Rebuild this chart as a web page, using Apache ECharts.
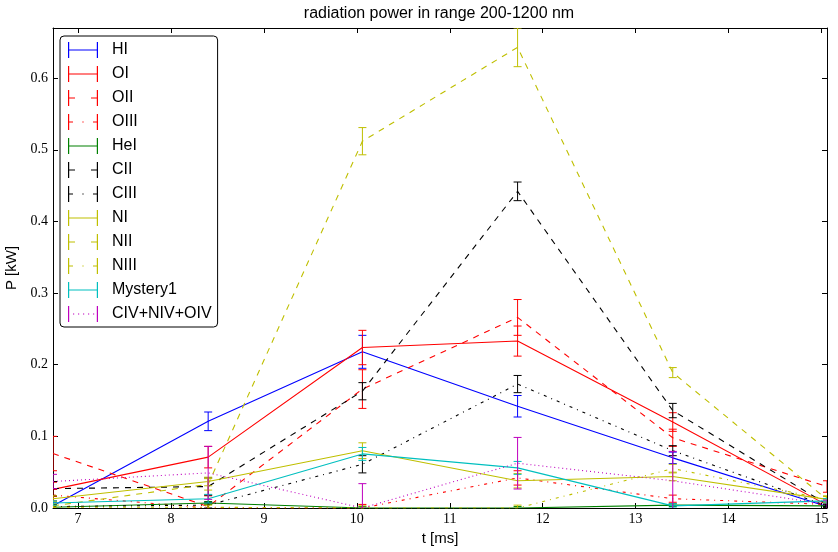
<!DOCTYPE html>
<html><head><meta charset="utf-8">
<script src="https://cdn.jsdelivr.net/npm/echarts@6/dist/echarts.min.js"></script>
<style>html,body{margin:0;padding:0;background:#fff}#c{width:838px;height:552px}</style>
</head><body><div id="c"></div>
<script>
// ---- data ----
const times = [6.73, 8.40, 10.06, 11.73, 13.40, 15.06];
const xTicks = [7, 8, 9, 10, 11, 12, 13, 14, 15];
const yTicks = [0, 0.1, 0.2, 0.3, 0.4, 0.5, 0.6];
const seriesNames = ['HI','OI','OII','OIII','HeI','CII','CIII','NI','NII','NIII','Mystery1','CIV+NIV+OIV'];

const HI        = [0.003, 0.121, 0.218, 0.142, 0.070, 0.002];
const HI_err    = [0.005, 0.013, 0.023, 0.015, 0.008, 0.003];
const OI        = [0.026, 0.071, 0.224, 0.233, 0.120, 0.004];
const OI_err    = [0.010, 0.015, 0.024, 0.021, 0.013, 0.004];
const OII       = [0.076, 0.002, 0.166, 0.266, 0.098, 0.030];
const OII_err   = [0.024, 0.015, 0.027, 0.025, 0.012, 0.008];
const OIII      = [0.018, 0.000, 0.000, 0.042, 0.013, 0.005];
const OIII_err  = [0.008, 0.006, 0.005, 0.010, 0.005, 0.003];
const HeI       = [0.001, 0.007, 0.000, 0.000, 0.004, 0.003];
const HeI_err   = [0.002, 0.002, 0.002, 0.002, 0.002, 0.002];
const CII       = [0.027, 0.030, 0.163, 0.442, 0.136, 0.005];
const CII_err   = [0.010, 0.012, 0.012, 0.013, 0.010, 0.003];
const CIII      = [0.002, 0.004, 0.061, 0.173, 0.080, 0.003];
const CIII_err  = [0.003, 0.004, 0.012, 0.012, 0.007, 0.002];
const NI        = [0.013, 0.037, 0.080, 0.038, 0.044, 0.012];
const NI_err    = [0.004, 0.006, 0.011, 0.010, 0.006, 0.004];
const NII       = [0.003, 0.033, 0.512, 0.643, 0.189, 0.012];
const NII_err   = [0.003, 0.008, 0.019, 0.027, 0.007, 0.005];
const NIII      = [0.001, 0.001, 0.000, 0.000, 0.055, 0.012];
const NIII_err  = [0.002, 0.003, 0.003, 0.004, 0.006, 0.004];
const Mystery1  = [0.007, 0.013, 0.0755, 0.056, 0.003, 0.010];
const Mystery1_err = [0.003, 0.006, 0.009, 0.009, 0.003, 0.003];
const CIVNIVOIV = [0.037, 0.049, 0.000, 0.0625, 0.038, 0.005];
const CIVNIVOIV_err = [0.010, 0.037, 0.034, 0.036, 0.041, 0.006];

const values = [HI, OI, OII, OIII, HeI, CII, CIII, NI, NII, NIII, Mystery1, CIVNIVOIV];
const errors = [HI_err, OI_err, OII_err, OIII_err, HeI_err, CII_err, CIII_err, NI_err, NII_err, NIII_err, Mystery1_err, CIVNIVOIV_err];

// ---- styles ----
const colors = ['#0000ff','#ff0000','#ff0000','#ff0000','#008000','#000000','#000000','#bfbf00','#bfbf00','#bfbf00','#00bfbf','#bf00bf'];
const styles = ['solid','solid','dashed','dashdot','solid','dashed','dashdot','solid','dashed','dashdot','solid','dotted'];
const dashMap = {solid: 'solid', dashed: [6, 6], dashdot: [3, 5, 1, 5], dotted: [1, 3]};

const capL = 'M0,0h1.2v16h-1.2z';
const capR = 'M28.8,0h1.2v16h-1.2z';
const iconMap = {
  solid: 'path://' + capL + 'M0,7.4h30v1.2h-30z' + capR,
  dashed: 'path://' + capL + 'M0,7.4h7v1.2h-7z' + 'M23,7.4h7v1.2h-7z' + capR,
  dashdot: 'path://' + capL + 'M0,7.4h5v1.2h-5z' + 'M14.4,7.4h1.2v1.2h-1.2z' + 'M25,7.4h5v1.2h-5z' + capR,
  dotted: 'path://' + capL + 'M5,7.4h1.2v1.2h-1.2zM10,7.4h1.2v1.2h-1.2zM15,7.4h1.2v1.2h-1.2zM20,7.4h1.2v1.2h-1.2zM25,7.4h1.2v1.2h-1.2z' + capR
};

const series = [];
seriesNames.forEach((name, i) => {
  const c = colors[i];
  series.push({
    type: 'line', name: name,
    data: times.map((t, k) => [t, values[i][k]]),
    symbol: 'none', showSymbol: false, silent: true, clip: true,
    color: c,
    itemStyle: {color: c},
    lineStyle: {color: c, width: 1.1, type: dashMap[styles[i]]},
    emphasis: {disabled: true},
    z: 2 + i * 0.01
  });
  series.push({
    type: 'custom', name: name + '_err',
    data: times.map((t, k) => [t, values[i][k] - errors[i][k], values[i][k] + errors[i][k]]),
    encode: {x: 0, y: [1, 2]},
    clip: true, silent: true,
    z: 2 + i * 0.01 + 0.005,
    renderItem: function (params, api) {
      const lo = api.coord([api.value(0), api.value(1)]);
      const hi = api.coord([api.value(0), api.value(2)]);
      const w = 4;
      const st = {stroke: c, lineWidth: 1, fill: null};
      return {type: 'group', children: [
        {type: 'line', shape: {x1: lo[0], y1: lo[1], x2: hi[0], y2: hi[1]}, style: st},
        {type: 'line', shape: {x1: lo[0] - w, y1: lo[1], x2: lo[0] + w, y2: lo[1]}, style: st},
        {type: 'line', shape: {x1: hi[0] - w, y1: hi[1], x2: hi[0] + w, y2: hi[1]}, style: st}
      ]};
    }
  });
});

const tickFont = {fontFamily: 'Liberation Serif', fontSize: 14, color: '#000'};
const sansFont = 'Liberation Sans';

const option = {
  animation: false,
  backgroundColor: '#fff',
  title: {
    text: 'radiation power in range 200-1200 nm',
    left: 439, top: 6, textAlign: 'center', padding: 0,
    textStyle: {fontFamily: sansFont, fontSize: 16, fontWeight: 'normal', color: '#000'}
  },
  grid: {left: 53, right: 11, top: 28, bottom: 44, outerBoundsMode: 'none', containLabel: false},
  legend: {
    orient: 'vertical', left: 60, top: 36,
    itemWidth: 30, itemHeight: 16, itemGap: 8,
    padding: [6, 6, 5, 8],
    backgroundColor: '#fff', borderColor: '#000', borderWidth: 1, borderRadius: 4,
    selectedMode: false,
    itemStyle: {borderWidth: 0},
    textStyle: {fontFamily: sansFont, fontSize: 16, color: '#000', padding: [0, 0, 0, 9]},
    data: seriesNames.map((n, i) => ({name: n, icon: iconMap[styles[i]], itemStyle: {color: colors[i], borderWidth: 0}}))
  },
  xAxis: [{
    type: 'value', min: 6.73, max: 15.06, position: 'bottom',
    name: 't [ms]', nameLocation: 'middle', nameGap: 19,
    nameTextStyle: {fontFamily: sansFont, fontSize: 15, color: '#000'},
    axisLine: {show: true, onZero: false, lineStyle: {color: '#000', width: 1}},
    axisTick: {show: true, inside: true, length: 5, customValues: xTicks, lineStyle: {color: '#000'}},
    axisLabel: {show: true, margin: 4, customValues: xTicks, ...tickFont},
    splitLine: {show: false}
  }, {
    type: 'value', min: 6.73, max: 15.06, position: 'top',
    axisLine: {show: true, onZero: false, lineStyle: {color: '#000', width: 1}},
    axisTick: {show: true, inside: true, length: 5, customValues: xTicks, lineStyle: {color: '#000'}},
    axisLabel: {show: false},
    splitLine: {show: false}
  }],
  yAxis: [{
    type: 'value', min: 0, max: 0.67, position: 'left',
    name: 'P [kW]', nameLocation: 'middle', nameGap: 31,
    nameTextStyle: {fontFamily: sansFont, fontSize: 15, color: '#000'},
    axisLine: {show: true, onZero: false, lineStyle: {color: '#000', width: 1}},
    axisTick: {show: true, inside: true, length: 5, customValues: yTicks, lineStyle: {color: '#000'}},
    axisLabel: {show: true, margin: 5, customValues: yTicks, formatter: v => v.toFixed(1), ...tickFont},
    splitLine: {show: false}
  }, {
    type: 'value', min: 0, max: 0.67, position: 'right',
    axisLine: {show: true, onZero: false, lineStyle: {color: '#000', width: 1}},
    axisTick: {show: true, inside: true, length: 5, customValues: yTicks, lineStyle: {color: '#000'}},
    axisLabel: {show: false},
    splitLine: {show: false}
  }],
  series: series
};

const chart = echarts.init(document.getElementById('c'), null, {renderer: 'canvas'});
chart.setOption(option);
</script>
</body></html>
